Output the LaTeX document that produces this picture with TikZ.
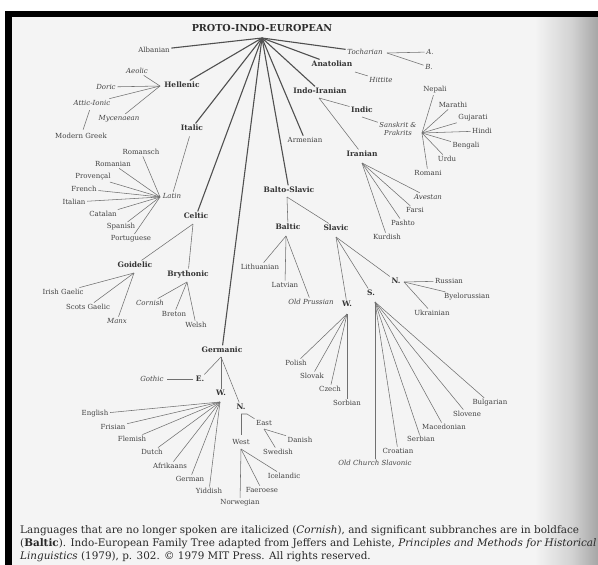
\documentclass[tikz,border=0pt]{standalone}
\usepackage{fontspec}
\setmainfont{DejaVu Serif}
\definecolor{pagebg}{RGB}{244,244,244}
\definecolor{labtext}{RGB}{66,66,66}
\definecolor{grptext}{RGB}{52,52,52}
\definecolor{titlec}{RGB}{45,45,45}
\definecolor{trunkc}{RGB}{80,80,80}
\definecolor{twigc}{RGB}{112,112,112}
\definecolor{captext}{RGB}{40,40,40}
\newcommand\lblfont{\fontsize{7}{8}\selectfont}
\newcommand\grpfont{\fontsize{7.5}{9}\selectfont\bfseries}
\newcommand\ttlfont{\fontsize{9.6}{11}\selectfont\bfseries}
\newcommand\capfont{\fontsize{10.4}{12}\selectfont}
\tikzset{
  lab/.style={font=\lblfont, text=labtext, inner sep=1.5pt},
  dead/.style={font=\lblfont\itshape, text=labtext, inner sep=1.5pt},
  grp/.style={font=\grpfont, text=grptext, inner sep=1.5pt},
  trunk/.style={draw=trunkc, line width=1.1pt},
  twig/.style={draw=twigc, line width=0.55pt},
  captionline/.style={anchor=west, font=\capfont, text=captext, inner sep=0pt},
}
\begin{document}
\begin{tikzpicture}[x=1pt,y=-1pt]
\useasboundingbox (0,0) rectangle (598,565);
\clip (0,0) rectangle (598,565);
% page, binding shadow and frame
\fill[white] (0,0) rectangle (598,565);
\fill[pagebg] (12,17) rectangle (598,565);
\shade[left color=pagebg, right color={rgb,255:red,210;green,210;blue,210}] (535,17) rectangle (572,565);
\shade[left color={rgb,255:red,210;green,210;blue,210}, right color={rgb,255:red,165;green,165;blue,165}] (572,17) rectangle (598.5,565);
\fill[black] (5,11) rectangle (598.5,17);
\fill[black] (5,11) rectangle (12,565);

% root
\node[font=\ttlfont, text=titlec, inner sep=1pt] (pie) at (262,28) {PROTO-INDO-EUROPEAN};
\coordinate (root) at (262,38);

% first-level branches
\node[lab] (albanian) at (154,50) {Albanian};
\node[dead] (tocharian) at (365,52) {Tocharian};
\node[grp] (anatolian) at (332,64) {Anatolian};
\node[grp] (indoiranian) at (320,91) {Indo-Iranian};
\node[lab] (armenian) at (305,140) {Armenian};
\node[grp] (baltoslavic) at (289,190) {Balto-Slavic};
\node[grp] (hellenic) at (182,85) {Hellenic};
\node[grp] (italic) at (192,128) {Italic};
\node[grp] (celtic) at (196,216) {Celtic};
\node[grp] (germanic) at (222,350) {Germanic};

\foreach \b in {albanian,tocharian,anatolian,indoiranian,armenian,baltoslavic,hellenic,italic,celtic,germanic}
  \draw[trunk] (root) -- (\b);

% Tocharian and Anatolian
\node[dead] (tochA) at (430,52) {A.};
\node[dead] (tochB) at (429,67) {B.};
\coordinate (tochub) at (387,53);
\draw[twig] (tochub) -- (tochA);
\draw[twig] (tochub) -- (tochB);
\node[dead] (hittite) at (381,80) {Hittite};
\coordinate (anahub) at (355,72);
\draw[twig] (anahub) -- (hittite);

% Indo-Iranian
\node[grp] (indic) at (362,110) {Indic};
\node[grp] (iranian) at (362,154) {Iranian};
\coordinate (iihub) at (319,98);
\draw[twig] (iihub) -- (indic);
\draw[twig] (iihub) -- (iranian);
\node[dead, align=center, font=\fontsize{6.8}{8}\selectfont\itshape] (sanskrit) at (398,129) {Sanskrit \&\\Prakrits};
\coordinate (indichub) at (362,117);
\draw[twig] (indichub) -- (sanskrit);
\node[lab] (nepali) at (435,90) {Nepali};
\node[lab] (marathi) at (453,105) {Marathi};
\node[lab] (gujarati) at (473,118) {Gujarati};
\node[lab] (hindi) at (482,131) {Hindi};
\node[lab] (bengali) at (466,146) {Bengali};
\node[lab] (urdu) at (447,159) {Urdu};
\node[lab] (romani) at (428,173) {Romani};
\coordinate (skthub) at (422,133);
\foreach \l in {nepali,marathi,gujarati,hindi,bengali,urdu,romani}
  \draw[twig] (skthub) -- (\l);
\node[dead] (avestan) at (428,197) {Avestan};
\node[lab] (farsi) at (415,210) {Farsi};
\node[lab] (pashto) at (403,223) {Pashto};
\node[lab] (kurdish) at (387,237) {Kurdish};
\coordinate (iranhub) at (362,163);
\foreach \l in {avestan,farsi,pashto,kurdish}
  \draw[twig] (iranhub) -- (\l);

% Balto-Slavic
\node[grp] (baltic) at (288,227) {Baltic};
\node[grp] (slavic) at (336,228) {Slavic};
\coordinate (bshub) at (287,197);
\draw[twig] (bshub) -- (baltic);
\draw[twig] (bshub) -- (slavic);
\node[lab] (lithuanian) at (260,267) {Lithuanian};
\node[lab] (latvian) at (285,285) {Latvian};
\node[dead] (oldprussian) at (311,302) {Old Prussian};
\coordinate (baltichub) at (286,236);
\foreach \l in {lithuanian,latvian,oldprussian}
  \draw[twig] (baltichub) -- (\l);
\node[grp] (slavW) at (347,304) {W.};
\node[grp] (slavS) at (371,293) {S.};
\node[grp] (slavN) at (396,281) {N.};
\coordinate (slavichub) at (336,237);
\foreach \l in {slavW,slavS,slavN}
  \draw[twig] (slavichub) -- (\l);
\node[lab] (russian) at (449,281) {Russian};
\node[lab] (byelorussian) at (467,297) {Byelorussian};
\node[lab] (ukrainian) at (432,313) {Ukrainian};
\coordinate (slavNhub) at (404,282);
\foreach \l in {russian,byelorussian,ukrainian}
  \draw[twig] (slavNhub) -- (\l);
\node[lab] (polish) at (296,363) {Polish};
\node[lab] (slovak) at (312,376) {Slovak};
\node[lab] (czech) at (330,389) {Czech};
\node[lab] (sorbian) at (347,403) {Sorbian};
\coordinate (slavWhub) at (347,314);
\foreach \l in {polish,slovak,czech,sorbian}
  \draw[twig] (slavWhub) -- (\l);
\node[dead] (ocs) at (375,463) {Old Church Slavonic};
\node[lab] (croatian) at (398,451) {Croatian};
\node[lab] (serbian) at (421,439) {Serbian};
\node[lab] (macedonian) at (444,427) {Macedonian};
\node[lab] (slovene) at (467,414) {Slovene};
\node[lab] (bulgarian) at (490,403) {Bulgarian};
\coordinate (slavShub) at (375,302);
\foreach \l in {ocs,croatian,serbian,macedonian,slovene,bulgarian}
  \draw[twig] (slavShub) -- (\l);

% Hellenic
\node[dead] (aeolic) at (137,71) {Aeolic};
\node[dead] (doric) at (106,87) {Doric};
\node[dead] (attic) at (92,103) {Attic-Ionic};
\node[dead] (mycenaean) at (119,119) {Mycenaean};
\node[lab] (moderngreek) at (81,136) {Modern Greek};
\coordinate (hellhub) at (160,86);
\foreach \l in {aeolic,doric,attic,mycenaean}
  \draw[twig] (hellhub) -- (\l);
\draw[twig, shorten <=3pt, shorten >=2pt] (attic) -- (moderngreek);

% Italic
\node[dead] (latin) at (172,196) {Latin};
\draw[twig, shorten <=4pt] (italic) -- (latin);
\node[lab] (romansch) at (141,152) {Romansch};
\node[lab] (romanian) at (113,164) {Romanian};
\node[lab] (provencal) at (93,177) {Provençal};
\node[lab] (french) at (84,189) {French};
\node[lab] (italian) at (74,202) {Italian};
\node[lab] (catalan) at (103,214) {Catalan};
\node[lab] (spanish) at (121,227) {Spanish};
\node[lab] (portuguese) at (131,239) {Portuguese};
\coordinate (latinhub) at (160,197);
\foreach \l in {romansch,romanian,provencal,french,italian,catalan,spanish,portuguese}
  \draw[twig] (latinhub) -- (\l);

% Celtic
\node[grp] (goidelic) at (135,265) {Goidelic};
\node[grp] (brythonic) at (188,274) {Brythonic};
\coordinate (celtichub) at (193,224);
\draw[twig] (celtichub) -- (goidelic);
\draw[twig] (celtichub) -- (brythonic);
\node[lab] (irish) at (63,292) {Irish Gaelic};
\node[lab] (scots) at (88,307) {Scots Gaelic};
\node[dead] (manx) at (117,321) {Manx};
\coordinate (goidhub) at (134,273);
\foreach \l in {irish,scots,manx}
  \draw[twig] (goidhub) -- (\l);
\node[dead] (cornish) at (150,303) {Cornish};
\node[lab] (breton) at (174,314) {Breton};
\node[lab] (welsh) at (196,325) {Welsh};
\coordinate (brythhub) at (187,282);
\foreach \l in {cornish,breton,welsh}
  \draw[twig] (brythhub) -- (\l);

% Germanic
\node[grp] (gerE) at (200,379) {E.};
\node[grp] (gerW) at (221,393) {W.};
\node[grp] (gerN) at (241,407) {N.};
\coordinate (gerhub) at (221,357);
\foreach \l in {gerE,gerW,gerN}
  \draw[twig] (gerhub) -- (\l);
\node[dead] (gothic) at (152,379) {Gothic};
\draw[twig, shorten <=2pt, shorten >=1pt] (gothic) -- (gerE);
\node[lab] (english) at (95,414) {English};
\node[lab] (frisian) at (113,427) {Frisian};
\node[lab] (flemish) at (132,439) {Flemish};
\node[lab] (dutch) at (152,452) {Dutch};
\node[lab] (afrikaans) at (170,466) {Afrikaans};
\node[lab] (german) at (190,479) {German};
\node[lab] (yiddish) at (209,491) {Yiddish};
\coordinate (gerWhub) at (220,402);
\foreach \l in {english,frisian,flemish,dutch,afrikaans,german,yiddish}
  \draw[twig] (gerWhub) -- (\l);
\node[lab] (east) at (264,423) {East};
\node[lab] (west) at (241,442) {West};
\coordinate (gerNhub) at (241,414);
\coordinate (eastbend) at (247,414);
\draw[twig] (gerNhub) -- (eastbend) -- (east.north west);
\draw[twig, shorten >=3pt] (gerNhub) -- (west);
\node[lab] (danish) at (300,440) {Danish};
\node[lab] (swedish) at (278,452) {Swedish};
\coordinate (easthub) at (264,429);
\draw[twig] (easthub) -- (danish);
\draw[twig] (easthub) -- (swedish);
\node[lab] (icelandic) at (284,476) {Icelandic};
\node[lab] (faeroese) at (262,490) {Faeroese};
\node[lab] (norwegian) at (240,503) {Norwegian};
\coordinate (westhub) at (241,449);
\foreach \l in {icelandic,faeroese,norwegian}
  \draw[twig] (westhub) -- (\l);

% caption
\node[captionline] (cap1) at (20,531) {Languages that are no longer spoken are italicized (\textit{Cornish}), and significant subbranches are in boldface};
\node[captionline] (cap2) at (20,544) {(\textbf{Baltic}). Indo-European Family Tree adapted from Jeffers and Lehiste, \textit{Principles and Methods for Historical}};
\node[captionline] (cap3) at (20,557) {\textit{Linguistics} (1979), p. 302. © 1979 MIT Press. All rights reserved.};
\end{tikzpicture}
\end{document}
